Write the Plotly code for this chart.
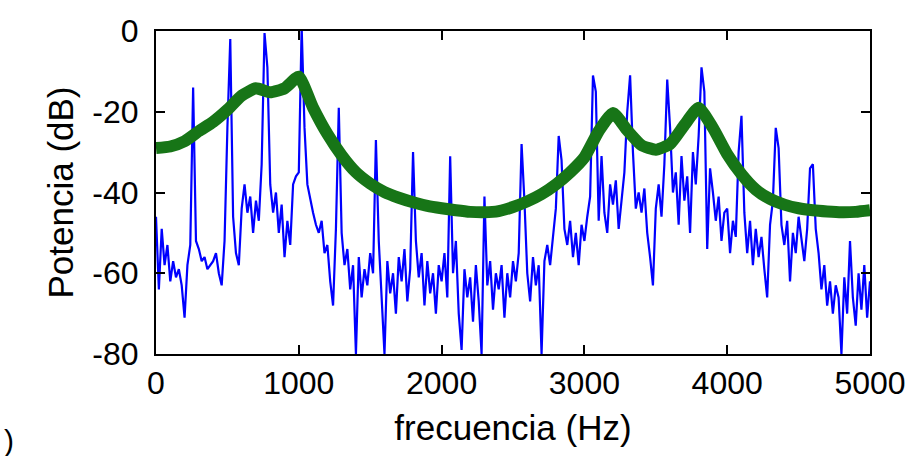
import plotly.graph_objects as go

# ---- data ----
freq_step_hz = 20
spectrum_db = [
    -46, -64, -49, -58, -53, -62, -57, -61, -59, -63,
    -71, -58, -53, -14, -52, -54, -57, -56, -59, -58,
    -57, -55, -60, -63, -52, -24, -2, -46, -55, -58,
    -44, -38, -45, -41, -50, -42, -47, -33, -0.5, -9,
    -38, -45, -40, -50, -43, -56, -47, -53, -38, -36,
    -35, 1, -24, -38, -42, -45, -48, -50, -47, -55,
    -53, -62, -68, -49, -19, -50, -58, -54, -64, -58,
    -80, -56, -66, -59, -63, -55, -60, -27, -52, -66,
    -80, -57, -65, -60, -70, -56, -62, -54, -67, -59,
    -30, -52, -61, -55, -68, -57, -65, -60, -70, -58,
    -62, -55, -66, -31, -60, -52, -70, -79, -59, -66,
    -61, -72, -58, -67, -80, -41, -63, -57, -69, -60,
    -64, -58, -71, -60, -66, -57, -62, -55, -28, -42,
    -60, -67, -56, -63, -58, -80, -57, -53, -58, -51,
    -44, -26, -32, -49, -53, -47, -56, -50, -58, -48,
    -52, -46, -41, -11, -15, -47, -31, -45, -50, -38,
    -43, -37, -49, -42, -35, -20, -11, -30, -44, -40,
    -45, -39, -50, -56, -63, -44, -38, -46, -33, -12,
    -24, -40, -35, -48, -31, -42, -36, -50, -30, -38,
    -26, -9, -15, -54, -34, -40, -47, -41, -52, -45,
    -44, -55, -47, -51, -30, -21, -45, -55, -47, -58,
    -49, -56, -51, -59, -66, -48, -42, -24, -29, -48,
    -53, -47, -62, -50, -55, -46, -52, -57, -49, -34,
    -33, -49, -55, -64, -58, -68, -62, -70, -63, -66,
    -80, -61, -70, -52, -66, -73, -60, -69, -58, -71,
    -62,
]
spectrum_freq = [i * freq_step_hz for i in range(len(spectrum_db))]

env_freq = list(range(0, 5001, 100))
env_db = [
    -29.0, -28.6, -27.3, -24.8, -22.5, -19.5, -16.0, -14.2, -15.2, -14.2,
    -11.3, -19.0, -25.5, -30.8, -35.0, -37.8, -39.9, -41.3, -42.4, -43.3,
    -43.9, -44.4, -44.8, -44.9, -44.6, -43.6, -42.2, -40.4, -38.0, -35.0,
    -31.3, -24.8, -20.3, -24.6, -28.3, -29.4, -28.0, -23.3, -19.0, -24.0,
    -30.5, -35.5, -39.3, -41.6, -43.0, -43.9, -44.4, -44.7, -44.9, -44.8,
    -44.4,
]

x_ticks = [0, 1000, 2000, 3000, 4000, 5000]
y_ticks = [0, -20, -40, -60, -80]

fig = go.Figure()
fig.add_trace(go.Scatter(
    x=spectrum_freq, y=spectrum_db, mode="lines",
    line=dict(color="#0000ff", width=2.2), showlegend=False,
))
fig.add_trace(go.Scatter(
    x=env_freq, y=env_db, mode="lines",
    line=dict(color="#177517", width=12, shape="spline", smoothing=0.5),
    showlegend=False,
))

tick_font = dict(family="Liberation Sans, Arial, sans-serif", size=32, color="#000")
title_font = dict(family="Liberation Sans, Arial, sans-serif", size=35, color="#000")

fig.update_layout(
    width=907, height=456,
    margin=dict(l=156, r=37, t=31, b=102),
    paper_bgcolor="white", plot_bgcolor="white",
    font=tick_font,
    xaxis=dict(
        range=[0, 5000], tickvals=x_ticks, ticktext=[str(v) for v in x_ticks],
        ticks="inside", ticklen=9, tickwidth=2, tickcolor="#000",
        showline=True, linecolor="#000", linewidth=2, mirror="allticks",
        showgrid=False, zeroline=False, tickfont=tick_font, automargin=False,
        ticklabeloverflow="allow",
        title=dict(text="frecuencia (Hz)", font=title_font, standoff=15),
    ),
    yaxis=dict(
        range=[-80, 0], tickvals=y_ticks, ticktext=[str(v) for v in y_ticks],
        ticks="inside", ticklen=9, tickwidth=2, tickcolor="#000",
        showline=True, linecolor="#000", linewidth=2, mirror="allticks",
        showgrid=False, zeroline=False, tickfont=tick_font, automargin=False,
        ticklabelstandoff=9,
        title=dict(text="Potencia (dB)", font=title_font, standoff=8),
    ),
    annotations=[
        dict(text=")", x=0.0, y=0.0, xref="paper", yref="paper",
             xshift=-154, yshift=-86, xanchor="left", yanchor="middle",
             showarrow=False, font=dict(family="Liberation Sans, Arial, sans-serif",
                                        size=30, color="#000")),
    ],
)

# remove the default page margin so the figure fills the window exactly
fig.write_html(
    "out.html",
    config={"displayModeBar": False},
    post_script="document.body.style.margin='0';document.body.style.overflow='hidden';",
)
